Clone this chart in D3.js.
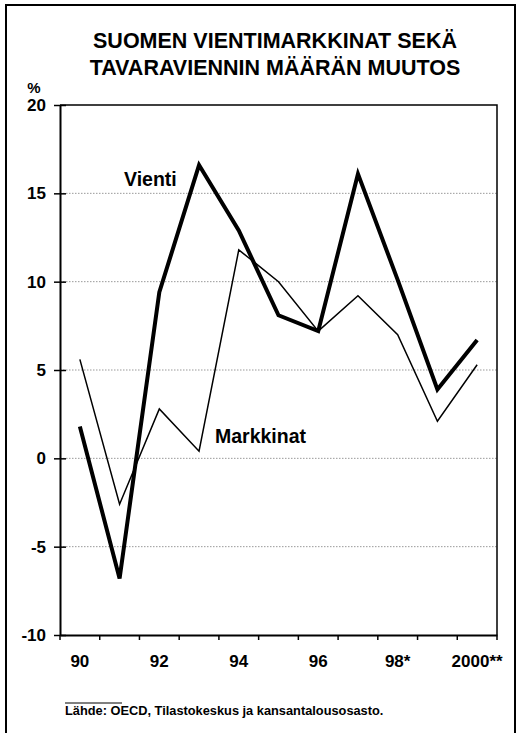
<!DOCTYPE html>
<html lang="fi">
  <head>
    <meta charset="utf-8">
    <title>Suomen vientimarkkinat</title>
    <script type="text/javascript" src="https://d3js.org/d3.v7.min.js"></script>
    <style type="text/css">
    body {
      margin: 0;
      background: white;
    }
    text {
      font-family: "Liberation Sans", Arial, sans-serif;
      font-weight: bold;
      fill: black;
    }
    .title {
      font-size: 21.5px;
    }
    .axisl text, .axisb text {
      font-size: 17px;
    }
    .grid line {
      stroke: #999;
      stroke-dasharray: 1.5,1.5;
      stroke-width: 1;
    }
    </style>
  </head>
  <body>
    <svg width="518" height="733" id="svg1"></svg>

    <script type="text/javascript">

    const width = 518;
    const height = 733;
    const mLeft = 60, mRight = 497, mTop = 105, mBottom = 635;

    // data
    const years = ["1990","1991","1992","1993","1994","1995","1996","1997","1998","1999","2000"];
    const tickLabels = {"1990": "90", "1992": "92", "1994": "94", "1996": "96", "1998": "98*", "2000": "2000**"};
    const vienti = [1.8, -6.8, 9.4, 16.6, 12.9, 8.1, 7.2, 16.1, 10.1, 3.9, 6.7];
    const markkinat = [5.6, -2.6, 2.8, 0.4, 11.8, 10.0, 7.2, 9.2, 7.0, 2.1, 5.3];
    const yTicks = [-10, -5, 0, 5, 10, 15, 20];

    const svg = d3.select("#svg1");

    // outer frame
    svg.append("path")
        .attr("d", "M6,733 V5 H515 V733")
        .attr("fill", "none")
        .attr("stroke", "black")
        .attr("stroke-width", 2);

    svg.append("text")
        .attr("class", "title")
        .attr("text-anchor", "middle")
        .attr("x", 275)
        .attr("y", 48)
        .text("SUOMEN VIENTIMARKKINAT SEKÄ");

    svg.append("text")
        .attr("class", "title")
        .attr("text-anchor", "middle")
        .attr("x", 275)
        .attr("y", 75)
        .text("TAVARAVIENNIN MÄÄRÄN MUUTOS");

    const xScale = d3.scaleBand()
        .domain(years)
        .range([mLeft, mRight]);

    const yScale = d3.scaleLinear()
        .domain([-10, 20])
        .range([mBottom, mTop]);

    const xMid = d => xScale(d) + xScale.bandwidth() / 2;

    // dotted gridlines
    svg.append("g")
        .attr("class", "grid")
        .selectAll("line")
        .data(yTicks.filter(d => d > -10 && d < 20))
        .enter()
        .append("line")
        .attr("x1", mLeft)
        .attr("x2", mRight)
        .attr("y1", d => yScale(d))
        .attr("y2", d => yScale(d));

    // plot frame top + right
    svg.append("path")
        .attr("d", "M" + mLeft + "," + mTop + " H" + mRight + " V" + mBottom)
        .attr("fill", "none")
        .attr("stroke", "black")
        .attr("stroke-width", 1.5);

    const leftAxis = d3.axisLeft(yScale)
        .tickValues(yTicks)
        .tickFormat(d => String(d))
        .tickSizeInner(6)
        .tickSizeOuter(0)
        .tickPadding(8);

    const gl = svg.append("g")
        .attr("class", "axisl")
        .attr("transform", "translate(" + mLeft + ",0)")
        .call(leftAxis);
    gl.select(".domain").attr("stroke-width", 2);
    gl.selectAll(".tick line")
        .attr("x1", 6)
        .attr("stroke-width", 1.5);

    // band boundaries as ticks
    const bounds = years.map(d => xScale(d)).concat([mRight]);
    svg.append("g")
        .selectAll("line")
        .data(bounds)
        .enter()
        .append("line")
        .attr("x1", d => d)
        .attr("x2", d => d)
        .attr("y1", mBottom)
        .attr("y2", mBottom + 5)
        .attr("stroke", "black")
        .attr("stroke-width", 1.5);

    const bottomAxis = d3.axisBottom(xScale)
        .tickValues(Object.keys(tickLabels))
        .tickFormat(d => tickLabels[d])
        .tickSize(0)
        .tickPadding(20);

    const gb = svg.append("g")
        .attr("class", "axisb")
        .attr("transform", "translate(0," + mBottom + ")")
        .call(bottomAxis);
    gb.select(".domain").attr("stroke-width", 2);

    svg.append("text")
        .attr("x", 34)
        .attr("y", 93)
        .attr("text-anchor", "middle")
        .style("font-size", "15px")
        .text("%");

    const line = d3.line()
        .x((d, i) => xMid(years[i]))
        .y(d => yScale(d));

    svg.append("path")
        .datum(markkinat)
        .attr("d", line)
        .attr("fill", "none")
        .attr("stroke", "black")
        .attr("stroke-width", 1.5)
        .attr("stroke-linejoin", "miter");

    svg.append("path")
        .datum(vienti)
        .attr("d", line)
        .attr("fill", "none")
        .attr("stroke", "black")
        .attr("stroke-width", 4)
        .attr("stroke-linejoin", "miter");

    svg.append("text")
        .attr("x", 124)
        .attr("y", 186)
        .style("font-size", "19.5px")
        .text("Vienti");

    svg.append("text")
        .attr("x", 215)
        .attr("y", 443)
        .style("font-size", "19.5px")
        .text("Markkinat");

    // source
    svg.append("line")
        .attr("x1", 65)
        .attr("x2", 122)
        .attr("y1", 703)
        .attr("y2", 703)
        .attr("stroke", "black")
        .attr("stroke-width", 1);

    svg.append("text")
        .attr("x", 65)
        .attr("y", 715)
        .style("font-size", "12.8px")
        .text("Lähde: OECD, Tilastokeskus ja kansantalousosasto.");

    </script>
  </body>
</html>
